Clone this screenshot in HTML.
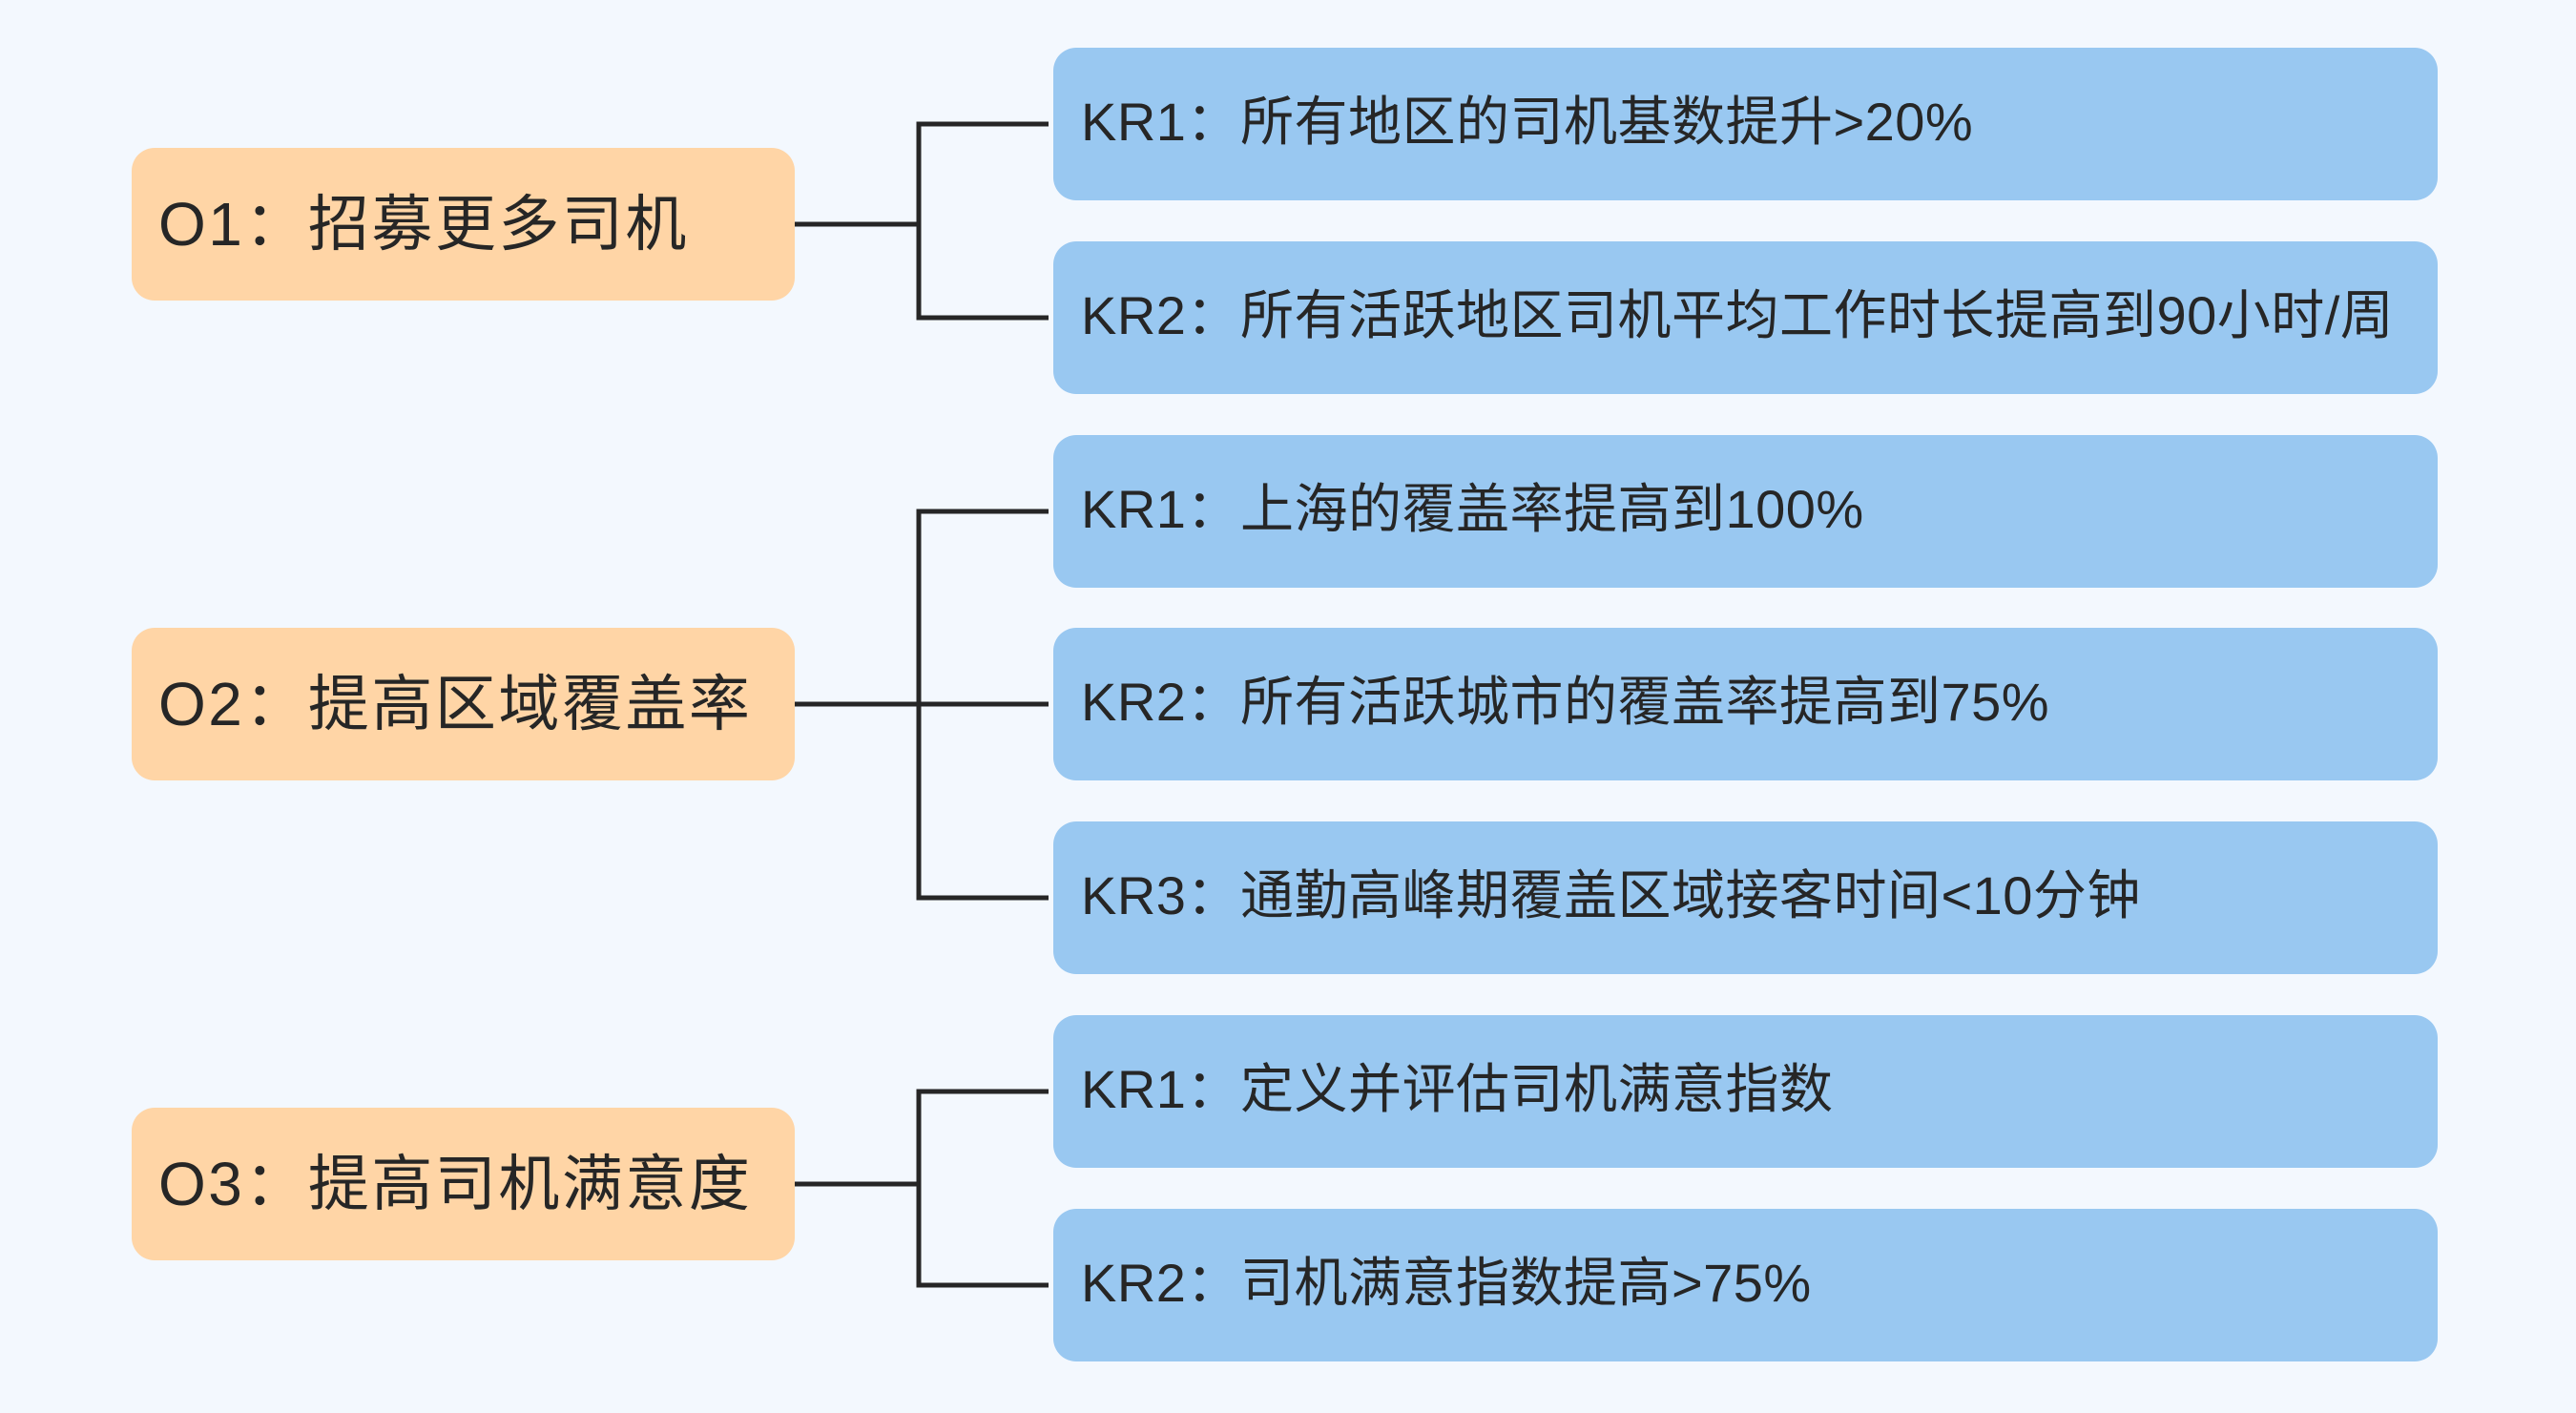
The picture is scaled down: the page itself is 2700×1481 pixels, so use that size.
<!DOCTYPE html>
<html><head><meta charset="utf-8"><style>
html,body{margin:0;padding:0}
body{width:2700px;height:1481px;background:#f3f8fe;position:relative;overflow:hidden;font-family:"Liberation Sans","Noto Sans CJK SC",sans-serif;color:#262626}
.o,.k{position:absolute;border-radius:24px;display:flex;align-items:center;box-sizing:border-box;white-space:nowrap}
.o{left:138px;width:695px;height:160px;background:#ffd5a6;font-size:64px;padding-left:28px;letter-spacing:2.5px;padding-bottom:10px}
.k{left:1104px;width:1451px;height:160px;background:#99c8f1;font-size:56px;padding-left:29px;letter-spacing:0.5px;padding-bottom:14px}
svg{position:absolute;left:0;top:0}
</style></head><body>
<svg width="2700" height="1481"><g stroke="#262626" stroke-width="5" fill="none">
<path d="M833 235H963M1099 130H963V333H1099"/>
<path d="M833 738H1099M1099 536H963V941H1099"/>
<path d="M833 1241H963M1099 1144H963V1347H1099"/>
</g></svg>
<div class="o" style="top:155px">O1：招募更多司机</div>
<div class="o" style="top:658px">O2：提高区域覆盖率</div>
<div class="o" style="top:1161px">O3：提高司机满意度</div>
<div class="k" style="top:50px">KR1：所有地区的司机基数提升&gt;20%</div>
<div class="k" style="top:253px">KR2：所有活跃地区司机平均工作时长提高到90小时/周</div>
<div class="k" style="top:456px">KR1：上海的覆盖率提高到100%</div>
<div class="k" style="top:658px">KR2：所有活跃城市的覆盖率提高到75%</div>
<div class="k" style="top:861px">KR3：通勤高峰期覆盖区域接客时间&lt;10分钟</div>
<div class="k" style="top:1064px">KR1：定义并评估司机满意指数</div>
<div class="k" style="top:1267px">KR2：司机满意指数提高&gt;75%</div>
</body></html>
